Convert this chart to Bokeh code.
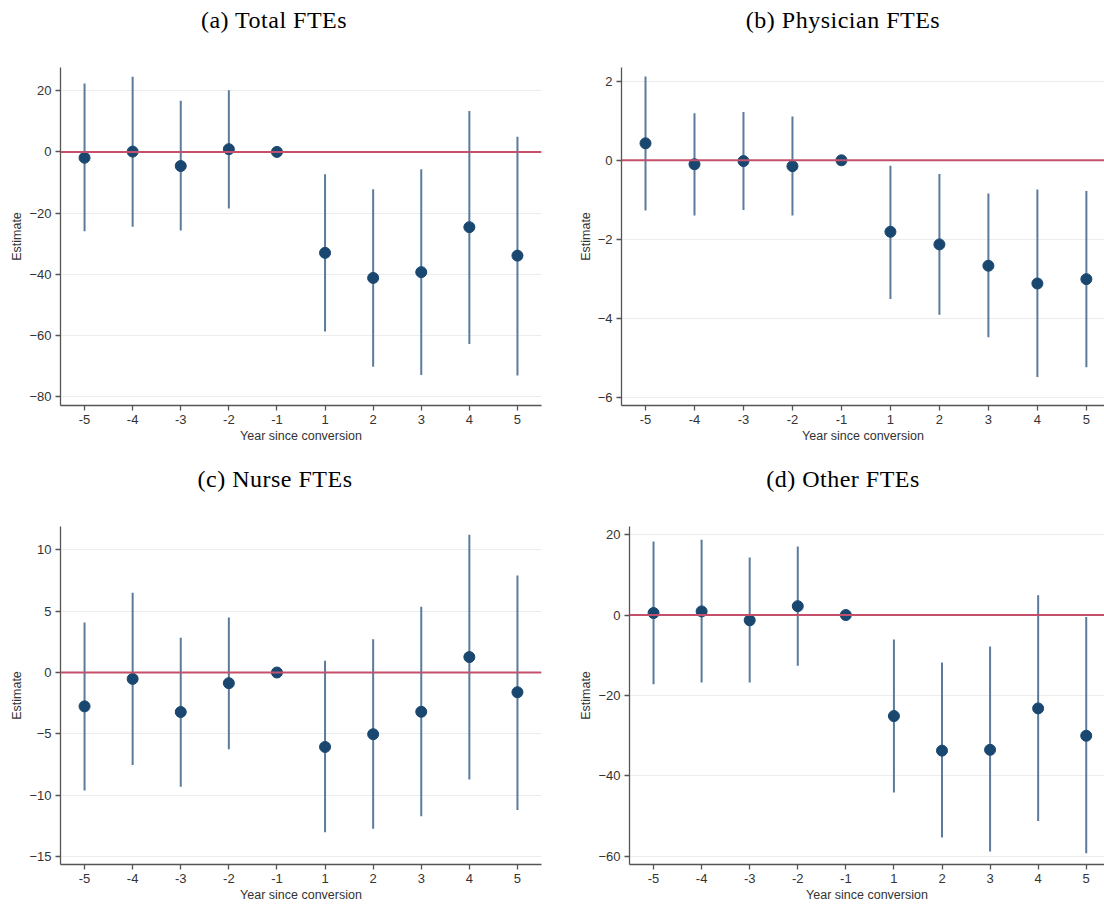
import numpy as np
from bokeh.plotting import figure
from bokeh.layouts import column, row
from bokeh.models import ColumnDataSource, Span, Range1d, FixedTicker, Div
from bokeh.embed import file_html
from bokeh.resources import INLINE

nan = np.nan

# Event-time categories (years relative to conversion)
years = ["-5", "-4", "-3", "-2", "-1", "1", "2", "3", "4", "5"]

# (a) Total FTEs
total_est = [-1.9, 0.1, -4.6, 0.9, 0.0, -33.0, -41.2, -39.3, -24.6, -33.9]
total_lo = [-25.9, -24.5, -25.7, -18.5, nan, -58.7, -70.2, -72.9, -62.8, -73.1]
total_hi = [22.4, 24.6, 16.7, 20.2, nan, -7.3, -12.2, -5.7, 13.4, 5.0]
total_ticks = [-80, -60, -40, -20, 0, 20]

# (b) Physician FTEs
phys_est = [0.43, -0.10, -0.02, -0.15, 0.0, -1.81, -2.13, -2.67, -3.12, -3.01]
phys_lo = [-1.27, -1.40, -1.26, -1.40, nan, -3.51, -3.91, -4.48, -5.49, -5.24]
phys_hi = [2.12, 1.19, 1.22, 1.11, nan, -0.14, -0.35, -0.84, -0.74, -0.78]
phys_ticks = [-6, -4, -2, 0, 2]

# (c) Nurse FTEs
nurse_est = [-2.76, -0.52, -3.22, -0.87, 0.0, -6.07, -5.03, -3.20, 1.26, -1.61]
nurse_lo = [-9.62, -7.54, -9.32, -6.26, nan, -13.03, -12.73, -11.72, -8.72, -11.20]
nurse_hi = [4.07, 6.50, 2.84, 4.48, nan, 0.96, 2.70, 5.36, 11.23, 7.90]
nurse_ticks = [-15, -10, -5, 0, 5, 10]

# (d) Other FTEs
other_est = [0.5, 0.9, -1.3, 2.2, 0.0, -25.1, -33.7, -33.5, -23.2, -30.0]
other_lo = [-17.2, -16.8, -16.8, -12.6, nan, -44.1, -55.3, -58.8, -51.2, -59.2]
other_hi = [18.3, 18.7, 14.3, 17.0, nan, -6.1, -11.8, -7.8, 4.9, -0.5]
other_ticks = [-60, -40, -20, 0, 20]

POINT = "#1a476f"
BAR = "#5a7b9c"
ZERO = "#c4506b"
AXIS = "#555555"
SANS = "Liberation Sans"

TITLE_H = 40


def caption(text, width, center):
    """Serif sub-caption centred at a given horizontal position."""
    box = 300
    html = (
        f'<div style="width:{box}px;margin-left:{center - box // 2}px;'
        f'text-align:center;white-space:nowrap;'
        f"font-family:'Liberation Serif','Times New Roman',serif;"
        f'font-size:24px;font-weight:normal;letter-spacing:0.5px;'
        f'line-height:{TITLE_H}px;color:#000;">{text}</div>'
    )
    return Div(text=html, width=width, height=TITLE_H, margin=0)


def panel(est, lo, hi, yticks, yrange, xrange, width, height, borders):
    left, right, top, bottom = borders
    p = figure(width=width, height=height, output_backend="svg",
               toolbar_location=None,
               x_range=Range1d(*xrange), y_range=Range1d(*yrange),
               min_border_left=left, min_border_right=right,
               min_border_top=top, min_border_bottom=bottom)
    p.outline_line_color = None
    p.background_fill_color = "white"
    p.border_fill_color = "white"

    pos = list(range(len(years)))
    src = ColumnDataSource(dict(x=pos, est=est,
                                lo=np.array(lo, dtype=float),
                                hi=np.array(hi, dtype=float)))

    p.add_layout(Span(location=0, dimension="width", line_color=ZERO,
                      line_width=2))
    p.segment(x0="x", y0="lo", x1="x", y1="hi", source=src,
              line_color=BAR, line_width=2)
    p.scatter(x="x", y="est", source=src, size=11, color=POINT)

    # axes
    p.xaxis.ticker = FixedTicker(ticks=pos)
    p.xaxis.major_label_overrides = {i: y for i, y in enumerate(years)}
    p.yaxis.ticker = FixedTicker(ticks=yticks)
    for ax in (p.xaxis[0], p.yaxis[0]):
        ax.axis_line_color = AXIS
        ax.axis_line_width = 1.3
        ax.major_tick_line_color = AXIS
        ax.major_tick_line_width = 1.3
        ax.major_tick_out = 5
        ax.major_tick_in = 0
        ax.minor_tick_line_color = None
        ax.major_label_text_font = SANS
        ax.major_label_text_font_size = "13px"
        ax.major_label_text_color = "#333333"
        ax.axis_label_text_font = SANS
        ax.axis_label_text_font_size = "12.5px"
        ax.axis_label_text_font_style = "normal"
        ax.axis_label_text_color = "#333333"
    p.xaxis.axis_label = "Year since conversion"
    p.xaxis.axis_label_standoff = 2
    p.xaxis.major_label_standoff = 4
    p.yaxis.axis_label = "Estimate"
    p.yaxis.axis_label_standoff = 2
    p.yaxis.major_label_standoff = 4
    p.yaxis.major_label_orientation = "horizontal"

    p.xgrid.visible = False
    p.ygrid.grid_line_color = "#ececec"
    p.ygrid.grid_line_width = 1
    return p


pa = panel(total_est, total_lo, total_hi, total_ticks,
           (-82.9, 27.6), (-0.5, 9.5), 560, 459 - TITLE_H, (60, 19, 27, 54))
pb = panel(phys_est, phys_lo, phys_hi, phys_ticks,
           (-6.21, 2.35), (-0.49, 9.37), 544, 459 - TITLE_H, (61, 0, 27, 54))
pc = panel(nurse_est, nurse_lo, nurse_hi, nurse_ticks,
           (-15.65, 11.9), (-0.5, 9.5), 560, 448 - TITLE_H, (60, 19, 27, 43))
pd = panel(other_est, other_lo, other_hi, other_ticks,
           (-62.0, 22.0), (-0.5, 9.38), 544, 448 - TITLE_H, (69, 0, 27, 43))

layout = column(
    row(column(caption("(a) Total FTEs", 560, 274), pa),
        column(caption("(b) Physician FTEs", 544, 283), pb)),
    row(column(caption("(c) Nurse FTEs", 560, 275), pc),
        column(caption("(d) Other FTEs", 544, 283), pd)),
)
open("out.html", "w").write(file_html(layout, INLINE))
